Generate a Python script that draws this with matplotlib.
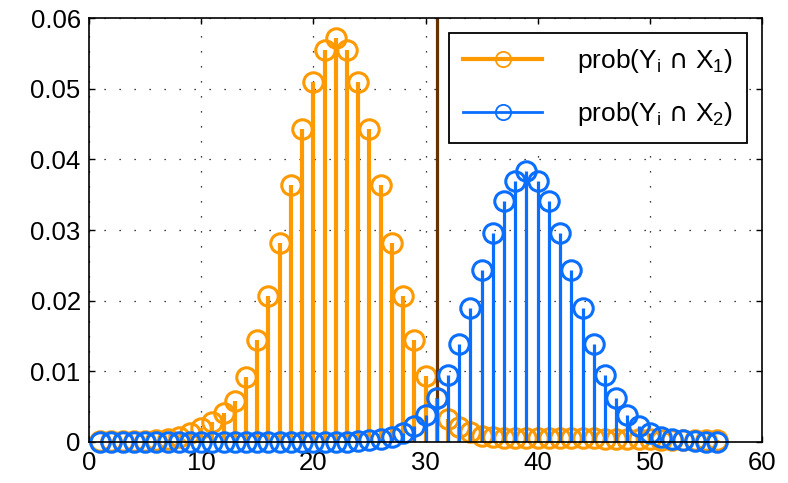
import numpy as np
import matplotlib
matplotlib.use('Agg')
import matplotlib.pyplot as plt
from matplotlib.lines import Line2D
from matplotlib.legend_handler import HandlerLine2D

plt.rcParams['font.family'] = ['Liberation Sans', 'DejaVu Sans']
plt.rcParams['mathtext.fontset'] = 'custom'
plt.rcParams['mathtext.rm'] = 'Liberation Sans'
plt.rcParams['mathtext.it'] = 'Liberation Sans'
plt.rcParams['mathtext.sf'] = 'DejaVu Sans'

# observation index
x = np.arange(1, 57)

# prob(Y_i and X_1)
p_x1 = [0.0001, 0.0001, 0.0001, 0.0001, 0.0001, 0.0002, 0.0004, 0.0007, 0.0012, 0.0020,
        0.0028, 0.0040, 0.0058, 0.0091, 0.0144, 0.0206, 0.0282, 0.0364, 0.0443, 0.0510,
        0.0555, 0.0572, 0.0555, 0.0510, 0.0443, 0.0364, 0.0282, 0.0206, 0.0144, 0.0093,
        0.0062, 0.0032, 0.0021, 0.0014, 0.0008, 0.0006, 0.0005, 0.0005, 0.0005, 0.0005,
        0.0005, 0.0005, 0.0005, 0.0005, 0.0005, 0.0004, 0.0004, 0.0004, 0.0004, 0.0004,
        0.0003, 0.0003, 0.0003, 0.0002, 0.0002, 0.0002]

# prob(Y_i and X_2)
p_x2 = [0, 0, 0, 0, 0, 0, 0, 0, 0, 0,
        0, 0, 0, 0, 0, 0, 0, 0, 0, 0,
        0, 0, 0, 0.0001, 0.0002, 0.0004, 0.0007, 0.0012, 0.0022, 0.0038,
        0.0062, 0.0095, 0.0138, 0.0189, 0.0244, 0.0296, 0.0341, 0.0369, 0.0383, 0.0369,
        0.0341, 0.0296, 0.0244, 0.0189, 0.0138, 0.0095, 0.0062, 0.0038, 0.0022, 0.0012,
        0.0007, 0.0004, 0.0002, 0.0001, 0.0, 0.0]

threshold = 31
labels = [r'prob(Y$_{\mathrm{i}}\ \mathsf{\cap}\ $X$_{\mathrm{1}}$)',
          r'prob(Y$_{\mathrm{i}}\ \mathsf{\cap}\ $X$_{\mathrm{2}}$)']
yticks = [0, 0.01, 0.02, 0.03, 0.04, 0.05, 0.06]
yticklabels = ['0', '0.01', '0.02', '0.03', '0.04', '0.05', '0.06']
xticks = [0, 10, 20, 30, 40, 50, 60]

orange = '#FF9900'
blue = '#0A6EFF'
brown = '#663300'


class EndMarkerHandler(HandlerLine2D):
    # line across, marker at the right end (matlab style)
    def get_xdata(self, legend, xdescent, ydescent, width, height, fontsize):
        return [-xdescent, -xdescent + width], [-xdescent + width]


fig = plt.figure(figsize=(7.88, 4.83), dpi=100)
ax = fig.add_axes([0.113, 0.0855, 0.854, 0.8765])

for vals, col, lw in [(p_x1, orange, 3.0), (p_x2, blue, 2.3)]:
    ml, sl, bl = ax.stem(x, vals, basefmt=' ')
    sl.set_color(col)
    sl.set_linewidth(lw)
    ml.set_marker('o')
    ml.set_markerfacecolor('none')
    ml.set_markeredgecolor(col)
    ml.set_markersize(14)
    ml.set_markeredgewidth(2.2)
    ml.set_clip_on(False)
    if col == orange:
        ax.axvline(threshold, color=brown, lw=2.3, zorder=2)

ax.set_xlim(0, 60)
ax.set_ylim(0, 0.06)
ax.set_xticks(xticks)
ax.set_yticks(yticks)
ax.set_yticklabels(yticklabels)
ax.tick_params(direction='in', length=4, width=1, labelsize=18.5, top=True, right=True)
ax.tick_params(axis='x', pad=7)
ax.tick_params(axis='y', pad=6)
for s in ax.spines.values():
    s.set_linewidth(1.2)
ax.grid(True, color='black', linestyle=(0, (1, 11)), linewidth=0.9)

handles = [Line2D([], [], color=orange, lw=3, marker='o', mfc='none', mec=orange, ms=11, mew=1.3),
           Line2D([], [], color=blue, lw=2, marker='o', mfc='none', mec=blue, ms=11, mew=1.3)]
leg = ax.legend(handles, labels, loc='upper right', fontsize=19, handlelength=3.0,
                handletextpad=1.3, borderaxespad=0.55, borderpad=0.55, labelspacing=0.95,
                fancybox=False, framealpha=1, edgecolor='black', numpoints=1,
                handler_map={Line2D: EndMarkerHandler(numpoints=1)})
leg.get_frame().set_linewidth(1.3)

fig.savefig('out.png', dpi=100)
